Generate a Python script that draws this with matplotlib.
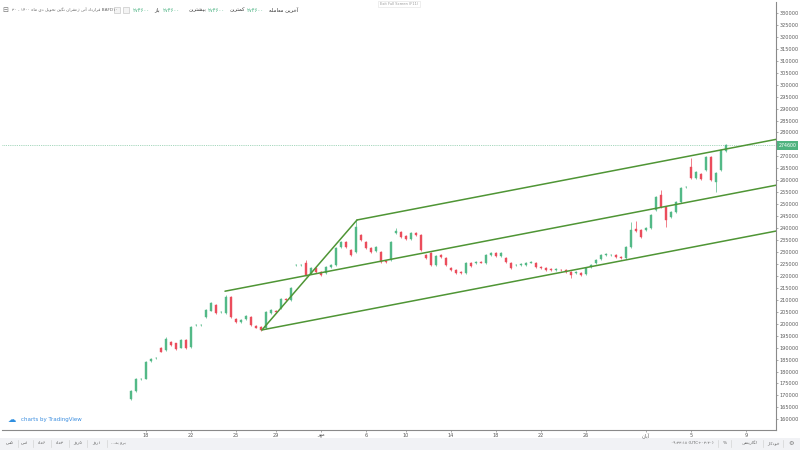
import matplotlib
matplotlib.use('Agg')
import matplotlib.pyplot as plt
from matplotlib.patches import Rectangle
from matplotlib.lines import Line2D
from matplotlib.transforms import blended_transform_factory
import numpy as np

# ---------------- data ----------------
opens = [168300, 172000, 176800, 177000, 184300, 185500, 189800, 189000, 192300, 191800,
         190000, 193000, 190300, 199300, 199500, 202800, 205500, 208000, 204800, 204400,
         211200, 202000, 200900, 202000, 202800, 199000, 198600, 198000, 204500, 205300,
         206500, 210300, 209900, 224600, 224600, 225400, 221000, 223300, 221600, 221200,
         223800, 224600, 232100, 234000, 230800, 230000, 237100, 234200, 231700, 230400,
         230000, 226200, 226600, 238000, 238400, 236700, 235400, 237900, 237100, 228700,
         229600, 224600, 228700, 227500, 223300, 222500, 221600, 221200, 225400, 225400,
         225800, 225400, 228700, 229400, 228300, 227500, 225400, 224400, 224600, 224600,
         225600, 225400, 223800, 223300, 222700, 222500, 222500, 222300, 221600, 221200,
         221200, 220800, 223800, 225400, 227100, 228700, 228700, 228700, 228000, 227500,
         232100, 239600, 239200, 239200, 240100, 247600, 253900, 248800, 244500, 246700,
         250900, 257200, 265600, 261000, 262700, 264300, 269700, 259300, 264300, 272300]
closes = [171800, 176900, 177000, 184000, 185300, 185700, 188300, 193800, 191000, 189600,
          193200, 189800, 198600, 199500, 199600, 205700, 208700, 204400, 205000, 211200,
          202800, 200700, 201600, 203100, 199500, 198400, 197400, 204900, 205600, 204800,
          210500, 209900, 215000, 224600, 224600, 220400, 223300, 221600, 220400, 223800,
          224600, 231500, 234200, 232100, 228700, 240500, 235000, 231700, 230000, 232100,
          225800, 225800, 234200, 238600, 236300, 235400, 238000, 237100, 230800, 227500,
          224600, 228300, 227900, 224600, 222500, 221200, 221200, 225400, 224200, 225800,
          225600, 228700, 229600, 228300, 229600, 225800, 223300, 224600, 224800, 225400,
          225800, 223800, 223300, 222500, 222500, 222700, 222300, 221600, 220400, 221600,
          220400, 223300, 224600, 226600, 228700, 229200, 228900, 228000, 227500, 232100,
          239200, 238800, 236300, 240100, 245500, 253000, 248800, 243400, 246700, 250900,
          256800, 257200, 261000, 263300, 260500, 269700, 260100, 263100, 272700, 274600]
highs = [172300, 177300, 177400, 184500, 185800, 186100, 190200, 194300, 192700, 192100,
         193600, 193400, 199000, 199900, 199900, 206100, 209100, 208400, 205400, 212000,
         211600, 202400, 202000, 203500, 203200, 199400, 199000, 205300, 206000, 205700,
         210900, 210700, 215400, 224900, 224900, 226600, 223700, 223700, 222000, 224200,
         225000, 231900, 234600, 234400, 231200, 243400, 237500, 234600, 232100, 232500,
         230400, 226600, 234600, 240000, 238800, 237100, 238400, 238300, 237500, 229100,
         230000, 228700, 229100, 227900, 223700, 222900, 222000, 225800, 225800, 226200,
         226200, 229100, 230000, 229800, 230000, 227900, 225800, 225000, 225200, 225800,
         226200, 225800, 224200, 223700, 223100, 223100, 222900, 222700, 222000, 222000,
         221600, 223700, 225000, 227000, 229100, 229600, 229300, 229100, 228400, 232500,
         242500, 243000, 239600, 240500, 245900, 253400, 255900, 249200, 247100, 251300,
         257200, 257500, 269300, 263700, 263100, 270100, 270100, 263500, 273100, 275000]
lows = [168000, 171600, 176400, 176700, 184000, 185200, 188000, 188700, 190600, 189200,
        189700, 189400, 190000, 199000, 199200, 202400, 205200, 204000, 204400, 204000,
        202400, 200300, 200500, 201600, 199100, 198000, 197000, 197600, 204100, 204400,
        206100, 209500, 209500, 224300, 224300, 220000, 220600, 221200, 220000, 220800,
        223400, 224200, 231700, 231700, 228300, 229600, 234600, 231300, 229600, 230000,
        225400, 225400, 226200, 237600, 235900, 235000, 235000, 236700, 230400, 227100,
        224200, 224200, 227500, 224200, 222100, 220800, 220800, 220800, 223800, 225000,
        225200, 225000, 228300, 227900, 227900, 225400, 222900, 224000, 224200, 224200,
        225200, 223400, 222900, 222100, 222100, 222100, 221900, 221200, 219000, 220800,
        220000, 220400, 223400, 225000, 226700, 228300, 228300, 227600, 227100, 227100,
        231700, 238400, 235900, 238800, 239700, 247200, 248400, 240500, 244100, 246300,
        250500, 256900, 260600, 260600, 260100, 263900, 259700, 255100, 263900, 271900]
last_price = 274600

date_tick_bars = [3, 12, 21, 29, 38, 47, 55, 64, 73, 82, 91, 103, 112, 123]
date_tick_labels = ['18', '22', '25', '29', 'مهر', '6', '10', '14', '18', '22', '26',
                    'آبان', '5', '9']
# price scale labels (275000 is hidden under the last-price tag, as in the reference)
price_ticks = [v for v in range(160000, 330001, 5000) if v != 275000]

# Andrews pitchfork anchors (A, B, C)
pf_bars = [18.8, 26.2, 45.2]
pf_prices = [213600, 197400, 243400]

header_title = 'BAFD۱۰ قرارداد آتی زعفران نگین تحویل دی ماه ۱۴۰۰ - ۳۰'
header_labels = ['باز', 'بیشترین', 'کمترین', 'آخرین معامله']
header_value = '۲۷۴۶۰۰'
range_buttons = ['۵س', '۱س', '۶ماه', '۳ماه', '۵روز', '۱روز', 'برو به...']
clock_text = '۰۹:۳۳:۱۸ (UTC+۰۳:۳۰)'
scale_buttons = ['%', 'لگاریتمی', 'خودکار']

# ---------------- minimal Persian shaping for display ----------------
AR = {
    'ا': ('\uFE8D', '\uFE8E', None, None), 'آ': ('\uFE81', '\uFE82', None, None),
    'ب': ('\uFE8F', '\uFE90', '\uFE91', '\uFE92'), 'پ': ('\uFB56', '\uFB57', '\uFB58', '\uFB59'),
    'ت': ('\uFE95', '\uFE96', '\uFE97', '\uFE98'), 'ج': ('\uFE9D', '\uFE9E', '\uFE9F', '\uFEA0'),
    'چ': ('\uFB7A', '\uFB7B', '\uFB7C', '\uFB7D'), 'ح': ('\uFEA1', '\uFEA2', '\uFEA3', '\uFEA4'),
    'خ': ('\uFEA5', '\uFEA6', '\uFEA7', '\uFEA8'), 'د': ('\uFEA9', '\uFEAA', None, None),
    'ر': ('\uFEAD', '\uFEAE', None, None), 'ز': ('\uFEAF', '\uFEB0', None, None),
    'س': ('\uFEB1', '\uFEB2', '\uFEB3', '\uFEB4'), 'ش': ('\uFEB5', '\uFEB6', '\uFEB7', '\uFEB8'),
    'ع': ('\uFEC9', '\uFECA', '\uFECB', '\uFECC'), 'ف': ('\uFED1', '\uFED2', '\uFED3', '\uFED4'),
    'ق': ('\uFED5', '\uFED6', '\uFED7', '\uFED8'), 'ک': ('\uFB8E', '\uFB8F', '\uFB90', '\uFB91'),
    'گ': ('\uFB92', '\uFB93', '\uFB94', '\uFB95'), 'ل': ('\uFEDD', '\uFEDE', '\uFEDF', '\uFEE0'),
    'م': ('\uFEE1', '\uFEE2', '\uFEE3', '\uFEE4'), 'ن': ('\uFEE5', '\uFEE6', '\uFEE7', '\uFEE8'),
    'و': ('\uFEED', '\uFEEE', None, None), 'ه': ('\uFEE9', '\uFEEA', '\uFEEB', '\uFEEC'),
    'ی': ('\uFBFC', '\uFBFD', '\uFBFE', '\uFBFF'),
}


def fa(s):
    if not any(ch in AR for ch in s):
        return s
    shaped = []
    for k, ch in enumerate(s):
        if ch not in AR:
            shaped.append(ch)
            continue
        iso, fin, ini, med = AR[ch]
        prev = s[k - 1] if k > 0 else ''
        nxt = s[k + 1] if k + 1 < len(s) else ''
        jp = prev in AR and AR[prev][2] is not None
        jn = nxt in AR and ini is not None
        if jp and jn:
            shaped.append(med)
        elif jp:
            shaped.append(fin)
        elif jn:
            shaped.append(ini)
        else:
            shaped.append(iso)
    units, buf = [], ''
    for orig, ch in zip(s, shaped):
        if orig.isalnum() and orig not in AR:
            buf += ch
        else:
            if buf:
                units.append(buf)
                buf = ''
            units.append(ch)
    if buf:
        units.append(buf)
    return ''.join(reversed(units))


plt.rcParams['font.family'] = ['DejaVu Sans']

UP, DOWN = '#53b987', '#eb4d5c'
PF = '#4f9535'
GRAY = '#5a5a5a'

W, H = 800, 450
fig = plt.figure(figsize=(8, 4.5), dpi=100)
fig.patch.set_facecolor('white')


def fx(px):
    return px / W


def fy(py):
    return 1 - py / H


ax = fig.add_axes([fx(2), fy(430), fx(776) - fx(2), fy(2) - fy(430)])
ax.set_facecolor('white')

idx = np.arange(len(opens))
o = np.array(opens, float)
c = np.array(closes, float)
hi = np.array(highs, float)
lo = np.array(lows, float)
cols = [UP if cc >= oo else DOWN for oo, cc in zip(o, c)]

ax.vlines(idx, lo, hi, colors=cols, lw=0.5, zorder=3)
ax.bar(idx, np.abs(c - o), bottom=np.minimum(o, c), width=0.45, color=cols,
       edgecolor=cols, lw=0.3, zorder=4)

# pitchfork
ax_x, bx, cx = pf_bars
ay, by, cy = pf_prices
mx, my = (bx + cx) / 2, (by + cy) / 2
dx, dy = mx - ax_x, my - ay
xend = 140.0
for sx, sy in [(ax_x, ay), (bx, by), (cx, cy)]:
    t = (xend - sx) / dx
    ax.plot([sx, xend], [sy, sy + t * dy], color=PF, lw=1.1, zorder=5,
            solid_capstyle='round')
ax.plot([bx, cx], [by, cy], color=PF, lw=1.1, zorder=5, solid_capstyle='round')

# last price line
ax.axhline(last_price, color='#86c9a6', lw=0.6, ls=(0, (1, 1.2)), zorder=2)

ax.set_xlim(-25.8, 129)
ax.set_ylim(155524, 334602)

for s in ['top', 'left']:
    ax.spines[s].set_visible(False)
for s in ['right', 'bottom']:
    ax.spines[s].set_color('#8a8a8a')
    ax.spines[s].set_linewidth(0.8)

ax.yaxis.tick_right()
ax.set_yticks(price_ticks)
ax.set_yticklabels([str(v) for v in price_ticks])
ax.tick_params(axis='y', labelsize=3.6, colors='#8a8a8a', labelcolor=GRAY,
               length=1.5, width=0.5, pad=1)
ax.set_xticks(date_tick_bars)
ax.set_xticklabels([fa(t) for t in date_tick_labels])
ax.tick_params(axis='x', labelsize=3.6, colors='#8a8a8a', labelcolor=GRAY,
               length=1.5, width=0.5, pad=1)

# price tag
tr = blended_transform_factory(ax.transAxes, ax.transData)
ax.text(1.003, last_price, str(last_price), transform=tr, fontsize=3.4,
        color='white', ha='left', va='center', zorder=10, clip_on=False,
        bbox=dict(boxstyle='square,pad=0.35', fc='#4fb37f', ec='none'))

# ---------------- header ----------------
fig.text(fx(5), fy(10), '⊟', fontsize=5, color='#777777', ha='center', va='center')
fig.text(fx(12), fy(10), fa(header_title), fontsize=3.1, color='#666666',
         ha='left', va='center')
for px in (117, 126):
    fig.add_artist(Rectangle((fx(px - 3), fy(13)), 6 / W, 6 / H, transform=fig.transFigure,
                             fc='#f4f4f4', ec='#bdbdbd', lw=0.4))
num_x = [133, 163, 208, 247]
lab_x = [160, 207, 245, 298]
for nx, lx, lab in zip(num_x, lab_x, header_labels):
    fig.text(fx(nx), fy(10), header_value, fontsize=3.8, color='#3fae7a',
             ha='left', va='center')
    fig.text(fx(lx), fy(10), fa(lab), fontsize=3.8, color='#333333',
             ha='right', va='center')

fig.text(fx(399), fy(4), 'Exit Full Screen (F11)', fontsize=2.6, color='#9a9a9a',
         ha='center', va='center',
         bbox=dict(boxstyle='square,pad=0.4', fc='white', ec='#e2e2e2', lw=0.4))

# TradingView logo
fig.text(fx(12), fy(420), '☁', fontsize=6, color='#2f8fe0', ha='center', va='center')
fig.text(fx(21), fy(420), 'charts by TradingView', fontsize=4.0, color='#3b8ee0',
         ha='left', va='center')

# ---------------- bottom toolbar ----------------
fig.add_artist(Rectangle((0, 0), 1, 12 / H, transform=fig.transFigure,
                         fc='#f1f2f5', ec='none', zorder=0))
btn_x = [10, 25, 42, 60, 78, 97, 118]
for bxp, lab in zip(btn_x, range_buttons):
    fig.text(fx(bxp), fy(443.5), fa(lab), fontsize=3.2, color='#666666',
             ha='center', va='center')
for sxp in [18, 33, 51, 69, 87, 107]:
    fig.add_artist(Line2D([fx(sxp), fx(sxp)], [fy(447), fy(440)],
                          transform=fig.transFigure, color='#d4d4d4', lw=0.5))
fig.text(fx(692), fy(443.5), fa(clock_text), fontsize=3.0, color='#666666',
         ha='center', va='center')
for bxp, lab in zip([725, 750, 773], scale_buttons):
    fig.text(fx(bxp), fy(443.5), fa(lab), fontsize=3.2, color='#666666',
             ha='center', va='center')
fig.text(fx(791), fy(443.5), '⚙', fontsize=4.5, color='#777777', ha='center', va='center')
for sxp in [718, 731, 763, 783]:
    fig.add_artist(Line2D([fx(sxp), fx(sxp)], [fy(447), fy(440)],
                          transform=fig.transFigure, color='#d4d4d4', lw=0.5))

fig.savefig('out.png', dpi=100)
